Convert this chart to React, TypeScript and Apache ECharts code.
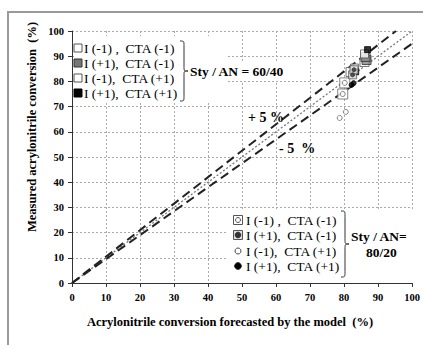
import React, { useEffect, useRef } from "react";
import * as echarts from "echarts";

// ---- data ----
const xTicks = [0, 10, 20, 30, 40, 50, 60, 70, 80, 90, 100];
const lineIdeal = [[0, 0], [100, 100]];
const linePlus5 = [[0, 0], [95.24, 100]];
const lineMinus5 = [[0, 0], [100, 95]];

// Sty / AN = 60/40
const s6040_m1m1 = [[81.9, 83.7], [86.0, 87.7]];
const s6040_p1m1 = [[86.6, 88.5], [86.3, 89.7]];
const s6040_m1p1 = [[83.1, 85.3], [86.0, 90.9]];
const s6040_p1p1 = [[86.9, 92.6], [83.4, 83.8]];
// Sty / AN = 80/20
const s8020_m1m1 = [[79.6, 75.0], [80.2, 79.4]];
const s8020_p1m1 = [[82.5, 82.6], [82.9, 84.6]];
const s8020_m1p1 = [[78.7, 65.5], [80.5, 67.9]];
const s8020_p1p1 = [[82.2, 78.6], [82.8, 79.3]];

const legendLabels = ["I (-1) ,  CTA (-1)", "I (+1),  CTA (-1)", "I (-1),  CTA (+1)", "I (+1),  CTA (+1)"];

const SERIF = "Liberation Serif";

function bracePath(w: number, h: number) {
  const m = w / 2;
  return `M0,0 C${m},0 ${m},0 ${m},${h * 0.08} L${m},${h * 0.42} C${m},${h * 0.5} ${m},${h * 0.5} ${w},${h * 0.5} C${m},${h * 0.5} ${m},${h * 0.5} ${m},${h * 0.58} L${m},${h * 0.92} C${m},${h} ${m},${h} 0,${h}`;
}

let registered = false;
function registerShapes() {
  if (registered) return;
  registered = true;
  echarts.graphic.registerShape("brace1", echarts.graphic.extendPath(bracePath(8, 60), {}) as any);
  echarts.graphic.registerShape("brace2", echarts.graphic.extendPath(bracePath(8, 66), {}) as any);
}

export default function App() {
  const ref = useRef<HTMLDivElement>(null);
  useEffect(() => {
    document.body.style.margin = "0";
    registerShapes();
    const chart = echarts.init(ref.current!, null, { renderer: "svg" });

    const sq = (data: number[][], fill: string, stroke: string, size = 9, z = 5) => ({
      type: "scatter", data, symbol: "rect", symbolSize: size, z,
      itemStyle: { color: fill, borderColor: stroke, borderWidth: 1 },
    });
    const ci = (data: number[][], fill: string, stroke: string, size = 5, z = 6) => ({
      type: "scatter", data, symbol: "circle", symbolSize: size, z,
      itemStyle: { color: fill, borderColor: stroke, borderWidth: 1 },
    });

    const tl = { x: 78, text: 84, rows: [48, 63, 78, 93] };
    const br = { x: 238, text: 246, rows: [220, 235, 251, 266] };
    const txt = (x: number, y: number, text: string, size = 14, weight: any = "normal", align = "left") => ({
      type: "text", x, y, z: 20,
      style: { text, fill: "#000", fontFamily: SERIF, fontSize: size, fontWeight: weight, align, verticalAlign: "middle" },
    });

    const graphic: any[] = [
      // outer border
      { type: "rect", shape: { x: 8, y: 12, width: 440, height: 400 }, style: { fill: "none", stroke: "#9a9a9a", lineWidth: 2 }, z: 1 },
      // white boxes hiding grid behind legends
      { type: "rect", shape: { x: 74, y: 36, width: 152, height: 67 }, style: { fill: "#fff" }, z: 10 },
      { type: "rect", shape: { x: 186, y: 62, width: 104, height: 19 }, style: { fill: "#fff" }, z: 10 },
      { type: "rect", shape: { x: 228, y: 209, width: 186, height: 72 }, style: { fill: "#fff" }, z: 10 },
      // top-left legend markers
      { type: "rect", shape: { x: tl.x - 4, y: tl.rows[0] - 4, width: 8, height: 8 }, style: { fill: "#fff", stroke: "#555", lineWidth: 1 }, z: 20 },
      { type: "rect", shape: { x: tl.x - 4, y: tl.rows[1] - 4, width: 8, height: 8 }, style: { fill: "#777", stroke: "#333", lineWidth: 1 }, z: 20 },
      { type: "rect", shape: { x: tl.x - 4, y: tl.rows[2] - 4, width: 8, height: 8 }, style: { fill: "#fff", stroke: "#555", lineWidth: 1 }, z: 20 },
      { type: "rect", shape: { x: tl.x - 4, y: tl.rows[3] - 4, width: 8, height: 8 }, style: { fill: "#000", stroke: "#000", lineWidth: 1 }, z: 20 },
      // bottom-right legend markers
      { type: "rect", shape: { x: br.x - 4.5, y: br.rows[0] - 4.5, width: 9, height: 9 }, style: { fill: "#fff", stroke: "#555", lineWidth: 1 }, z: 20 },
      { type: "circle", shape: { cx: br.x, cy: br.rows[0], r: 2.5 }, style: { fill: "#fff", stroke: "#555", lineWidth: 1 }, z: 21 },
      { type: "rect", shape: { x: br.x - 4.5, y: br.rows[1] - 4.5, width: 9, height: 9 }, style: { fill: "#ddd", stroke: "#555", lineWidth: 1 }, z: 20 },
      { type: "circle", shape: { cx: br.x, cy: br.rows[1], r: 2.8 }, style: { fill: "#333", stroke: "#333", lineWidth: 1 }, z: 21 },
      { type: "circle", shape: { cx: br.x, cy: br.rows[2], r: 3 }, style: { fill: "#fff", stroke: "#444", lineWidth: 1 }, z: 20 },
      { type: "circle", shape: { cx: br.x, cy: br.rows[3], r: 3.3 }, style: { fill: "#000", stroke: "#000", lineWidth: 1 }, z: 20 },
      // braces
      { type: "brace1", x: 180, y: 41, style: { fill: "none", stroke: "#333", lineWidth: 1 }, z: 20 },
      { type: "brace2", x: 341, y: 211, style: { fill: "none", stroke: "#333", lineWidth: 1 }, z: 20 },
      txt(190, 71, "Sty / AN = 60/40", 13.5, "bold"),
      txt(351, 236, "Sty / AN=", 13.5, "bold"),
      txt(366, 252, "80/20", 13.5, "bold"),
      txt(248, 117, "+ 5 %", 14, "bold"),
      txt(279, 148, "- 5  %", 14, "bold"),
      txt(230, 322, "Acrylonitrile conversion forecasted by the model  (%)", 12.5, "bold", "center"),
      {
        type: "text", x: 32, y: 127, rotation: Math.PI / 2, z: 20,
        style: { text: "Measured acrylonitrile conversion  (%)", fill: "#000", fontFamily: SERIF, fontSize: 12.5, fontWeight: "bold", align: "center", verticalAlign: "middle" },
      },
    ];
    legendLabels.forEach((l, i) => {
      graphic.push(txt(tl.text, tl.rows[i], l, 13.5));
      graphic.push(txt(br.text, br.rows[i], l, 13.5));
    });

    const axisCommon = {
      type: "value", min: 0, max: 100, interval: 10,
      axisLine: { show: true, lineStyle: { color: "#333", width: 1 } },
      axisTick: { show: true, length: 4, lineStyle: { color: "#333" } },
      axisLabel: { color: "#000", fontFamily: SERIF, fontWeight: "bold", fontSize: 10.5 },
      splitLine: { show: true, lineStyle: { color: "#aaa", type: [2, 2], width: 1 } },
    };

    chart.setOption({
      animation: false,
      backgroundColor: "#fff",
      grid: { left: 72, right: 8, top: 31, bottom: 62, containLabel: false },
      xAxis: { ...axisCommon, axisLabel: { ...axisCommon.axisLabel, margin: 9 } },
      yAxis: { ...axisCommon, axisLabel: { ...axisCommon.axisLabel, margin: 8 } },
      graphic,
      series: [
        { type: "line", data: lineIdeal, symbol: "none", z: 2, lineStyle: { color: "#777", width: 1.3, type: [2, 2] } },
        { type: "line", data: linePlus5, symbol: "none", z: 2, lineStyle: { color: "#222", width: 2, type: [9, 5] } },
        { type: "line", data: lineMinus5, symbol: "none", z: 2, lineStyle: { color: "#222", width: 2, type: [9, 5] } },
        sq(s6040_m1m1, "#fff", "#555", 9),
        sq(s6040_p1m1, "#888", "#333", 9),
        sq(s6040_m1p1, "#fff", "#555", 8),
        sq(s6040_p1p1, "#000", "#000", 6),
        sq(s8020_m1m1, "#fff", "#666", 10),
        ci(s8020_m1m1, "#fff", "#666", 5, 7),
        sq(s8020_p1m1, "#ddd", "#555", 8),
        ci(s8020_p1m1, "#333", "#333", 4, 7),
        ci(s8020_m1p1, "#fff", "#666", 5),
        ci(s8020_p1p1, "#000", "#000", 5),
      ],
    });
    return () => chart.dispose();
  }, []);
  return <div ref={ref} style={{ width: 423, height: 345 }} />;
}
